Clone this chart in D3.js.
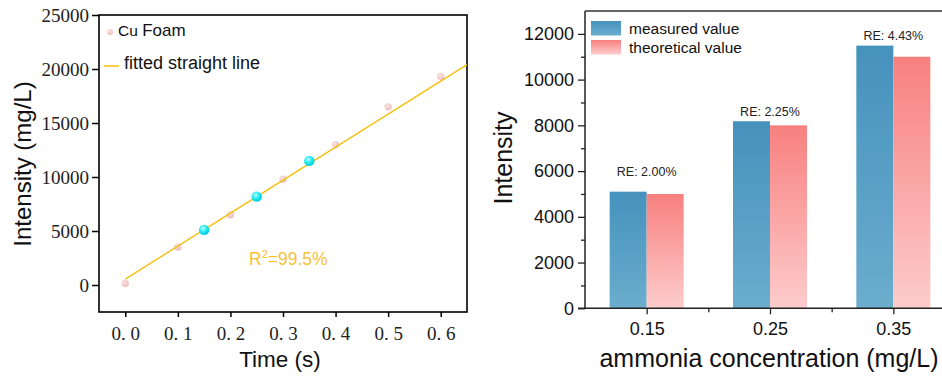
<!DOCTYPE html>
<html>
<head>
<meta charset="utf-8">
<script src="https://cdn.jsdelivr.net/npm/d3@7"></script>
<style>
  body { margin: 0; background: #fff; }
  svg { display: block; }
</style>
</head>
<body>
<script>
// ---- data, left panel (calibration) ----
const timeVals = [0, 0.1, 0.2, 0.3, 0.4, 0.5, 0.6];
const foamVals = [150, 3500, 6500, 9800, 13000, 16500, 19300];
const checkTimes = [0.15, 0.25, 0.35];
const checkVals = [5100, 8180, 11490];
const fitX = [0, 0.65];
const fitY = [550, 20400];
const leftYTicks = [0, 5000, 10000, 15000, 20000, 25000];
const leftXTicks = [0, 0.1, 0.2, 0.3, 0.4, 0.5, 0.6];

// ---- data, right panel (bars) ----
const concs = [0.15, 0.25, 0.35];
const measured = [5100, 8180, 11487];
const theoretical = [5000, 8000, 11000];
const reLabels = ["RE: 2.00%", "RE: 2.25%", "RE: 4.43%"];
const reLabelY = [5800, 8430, 11730];
const rightYTicks = [0, 2000, 4000, 6000, 8000, 10000, 12000];

const W = 942, H = 376;
const svg = d3.select("body").append("svg").attr("width", W).attr("height", H);

const defs = svg.append("defs");
function vGrad(id, top, bottom) {
  const g = defs.append("linearGradient").attr("id", id)
    .attr("x1", 0).attr("y1", 0).attr("x2", 0).attr("y2", 1);
  g.append("stop").attr("offset", "0%").attr("stop-color", top);
  g.append("stop").attr("offset", "100%").attr("stop-color", bottom);
}
vGrad("gBlue", "#4592bd", "#6badcd");
vGrad("gPink", "#f7807f", "#fdcccc");
const cyanG = defs.append("radialGradient").attr("id", "gCyan")
  .attr("cx", "40%").attr("cy", "35%").attr("r", "65%");
cyanG.append("stop").attr("offset", "0%").attr("stop-color", "#b8ffff");
cyanG.append("stop").attr("offset", "60%").attr("stop-color", "#12e6ef");
cyanG.append("stop").attr("offset", "100%").attr("stop-color", "#00c8d8");
const pinkG = defs.append("radialGradient").attr("id", "gDot")
  .attr("cx", "40%").attr("cy", "35%").attr("r", "65%");
pinkG.append("stop").attr("offset", "0%").attr("stop-color", "#fbe4e4");
pinkG.append("stop").attr("offset", "100%").attr("stop-color", "#ecbcbc");

const sans = "Arial, 'Liberation Sans', sans-serif";
const serif = "'Liberation Serif', 'Times New Roman', serif";
const gold = "#f5c00f";

// ================= left panel =================
const L = { l: 99, r: 467, t: 15, b: 312 };
const x1 = d3.scaleLinear().domain([-0.05, 0.65]).range([L.l, L.r]);
const y1 = d3.scaleLinear().domain([-2500, 25000]).range([L.b, L.t]);

const left = svg.append("g");

const ax1y = left.append("g").attr("transform", `translate(${L.l},0)`)
  .call(d3.axisLeft(y1).tickValues(leftYTicks).tickSize(7).tickPadding(3).tickFormat(d3.format("d")));
const ax1x = left.append("g").attr("transform", `translate(0,${L.b})`)
  .call(d3.axisBottom(x1).tickValues(leftXTicks).tickSize(5).tickPadding(6)
    .tickFormat(d => d3.format(".1f")(d).replace(".", ". ")));
[ax1y, ax1x].forEach(a => {
  a.select(".domain").remove();
  a.selectAll("line").attr("stroke", "#000").attr("stroke-width", 1.5);
  a.selectAll("text").attr("fill", "#222").style("font-family", serif).style("font-size", "19px");
});
ax1x.selectAll("text").attr("dy", "0.9em");

left.append("rect").attr("x", L.l).attr("y", L.t)
  .attr("width", L.r - L.l).attr("height", L.b - L.t)
  .attr("fill", "none").attr("stroke", "#000").attr("stroke-width", 1.6);

const clip = defs.append("clipPath").attr("id", "clipL");
clip.append("rect").attr("x", L.l).attr("y", L.t).attr("width", L.r - L.l).attr("height", L.b - L.t);

left.selectAll("circle.foam").data(timeVals).join("circle").attr("class", "foam")
  .attr("cx", d => x1(d)).attr("cy", (d, i) => y1(foamVals[i])).attr("r", 3.6)
  .attr("fill", "url(#gDot)");

left.append("path").attr("clip-path", "url(#clipL)")
  .datum(fitX.map((d, i) => [d, fitY[i]]))
  .attr("d", d3.line().x(d => x1(d[0])).y(d => y1(d[1])))
  .attr("fill", "none").attr("stroke", gold).attr("stroke-width", 1.4);

left.selectAll("circle.chk").data(checkTimes).join("circle").attr("class", "chk")
  .attr("cx", d => x1(d)).attr("cy", (d, i) => y1(checkVals[i])).attr("r", 5.2)
  .attr("fill", "url(#gCyan)");

// legend
left.append("circle").attr("cx", 110).attr("cy", 32).attr("r", 3).attr("fill", "url(#gDot)");
const cu = left.append("text").attr("x", 118).attr("y", 36)
  .style("font-family", sans).attr("fill", "#111");
cu.append("tspan").style("font-size", "15.5px").text("Cu ");
cu.append("tspan").style("font-size", "17px").text("Foam");
left.append("line").attr("x1", 104).attr("x2", 119).attr("y1", 66).attr("y2", 66)
  .attr("stroke", gold).attr("stroke-width", 1.5);
left.append("text").attr("x", 124).attr("y", 68.5)
  .style("font-family", sans).style("font-size", "18px").attr("fill", "#111")
  .text("fitted straight line");

const r2 = left.append("text").attr("x", 249).attr("y", 265)
  .style("font-family", sans).style("font-size", "17.5px").attr("fill", "#f7c233");
r2.append("tspan").text("R");
r2.append("tspan").attr("dy", -7).style("font-size", "11px").text("2");
r2.append("tspan").attr("dy", 7).text("=99.5%");

left.append("text").attr("x", 280).attr("y", 367).attr("text-anchor", "middle")
  .style("font-family", sans).style("font-size", "22.5px").attr("fill", "#111").text("Time (s)");
left.append("text").attr("transform", "translate(31,164) rotate(-90)").attr("text-anchor", "middle")
  .style("font-family", sans).style("font-size", "24px").attr("fill", "#111").text("Intensity (mg/L)");

// ================= right panel =================
const R = { l: 585, r: 955, t: 11, b: 308.3 };
const x2 = d3.scaleLinear().domain([0.10, 0.40]).range([R.l, R.r]);
const y2 = d3.scaleLinear().domain([0, 13000]).range([R.b, R.t]);
const barW = 0.03;

const right = svg.append("g");

const minorY = d3.range(1000, 13000, 2000);
right.append("g").attr("transform", `translate(${R.l},0)`)
  .call(d3.axisLeft(y2).tickValues(minorY).tickSize(4).tickFormat(""))
  .call(g => g.select(".domain").remove())
  .selectAll("line").attr("stroke", "#222").attr("stroke-width", 1.3);
const ax2y = right.append("g").attr("transform", `translate(${R.l},0)`)
  .call(d3.axisLeft(y2).tickValues(rightYTicks).tickSize(7).tickPadding(4).tickFormat(d3.format("d")));
ax2y.select(".domain").remove();
ax2y.selectAll("line").attr("stroke", "#222").attr("stroke-width", 1.3);
ax2y.selectAll("text").attr("fill", "#111").style("font-family", sans).style("font-size", "18px");

// bars
right.selectAll("rect.meas").data(concs).join("rect").attr("class", "meas")
  .attr("x", d => x2(d - barW)).attr("width", d => x2(d) - x2(d - barW))
  .attr("y", (d, i) => y2(measured[i])).attr("height", (d, i) => R.b - y2(measured[i]))
  .attr("fill", "url(#gBlue)");
right.selectAll("rect.theo").data(concs).join("rect").attr("class", "theo")
  .attr("x", d => x2(d)).attr("width", d => x2(d + barW) - x2(d))
  .attr("y", (d, i) => y2(theoretical[i])).attr("height", (d, i) => R.b - y2(theoretical[i]))
  .attr("fill", "url(#gPink)");

right.selectAll("text.re").data(concs).join("text").attr("class", "re")
  .attr("x", d => x2(d)).attr("y", (d, i) => y2(reLabelY[i])).attr("text-anchor", "middle")
  .style("font-family", sans).style("font-size", "12.5px").attr("fill", "#222")
  .text((d, i) => reLabels[i]);

// x axis
const minorX = [0.20, 0.30];
right.append("g").attr("transform", `translate(0,${R.b})`)
  .call(d3.axisBottom(x2).tickValues(minorX).tickSize(4).tickFormat(""))
  .call(g => g.select(".domain").remove())
  .selectAll("line").attr("stroke", "#222").attr("stroke-width", 1.3);
const ax2x = right.append("g").attr("transform", `translate(0,${R.b})`)
  .call(d3.axisBottom(x2).tickValues(concs).tickSize(6).tickPadding(8).tickFormat(d3.format(".2f")));
ax2x.select(".domain").remove();
ax2x.selectAll("line").attr("stroke", "#222").attr("stroke-width", 1.3);
ax2x.selectAll("text").attr("fill", "#111").style("font-family", sans).style("font-size", "18px");

// axis lines and top border
right.append("line").attr("x1", R.l - 7).attr("x2", W).attr("y1", R.b).attr("y2", R.b)
  .attr("stroke", "#222").attr("stroke-width", 1.5);
right.append("line").attr("x1", R.l).attr("x2", R.l).attr("y1", R.t).attr("y2", R.b)
  .attr("stroke", "#222").attr("stroke-width", 1.5);
right.append("line").attr("x1", R.l).attr("x2", W).attr("y1", R.t).attr("y2", R.t)
  .attr("stroke", "#333").attr("stroke-width", 1.5);

// legend
const leg = [["measured value", "url(#gBlue)"], ["theoretical value", "url(#gPink)"]];
leg.forEach((d, i) => {
  right.append("rect").attr("x", 591).attr("y", 21 + i * 19).attr("width", 30).attr("height", 14.5)
    .attr("fill", d[1]);
  right.append("text").attr("x", 629).attr("y", 33.5 + i * 19)
    .style("font-family", sans).style("font-size", "15.5px").attr("fill", "#111").text(d[0]);
});

right.append("text").attr("x", 769).attr("y", 367).attr("text-anchor", "middle")
  .style("font-family", sans).style("font-size", "25px").attr("fill", "#111")
  .text("ammonia concentration (mg/L)");
right.append("text").attr("transform", "translate(512,158) rotate(-90)").attr("text-anchor", "middle")
  .style("font-family", sans).style("font-size", "25px").attr("fill", "#111").text("Intensity");
</script>
</body>
</html>
